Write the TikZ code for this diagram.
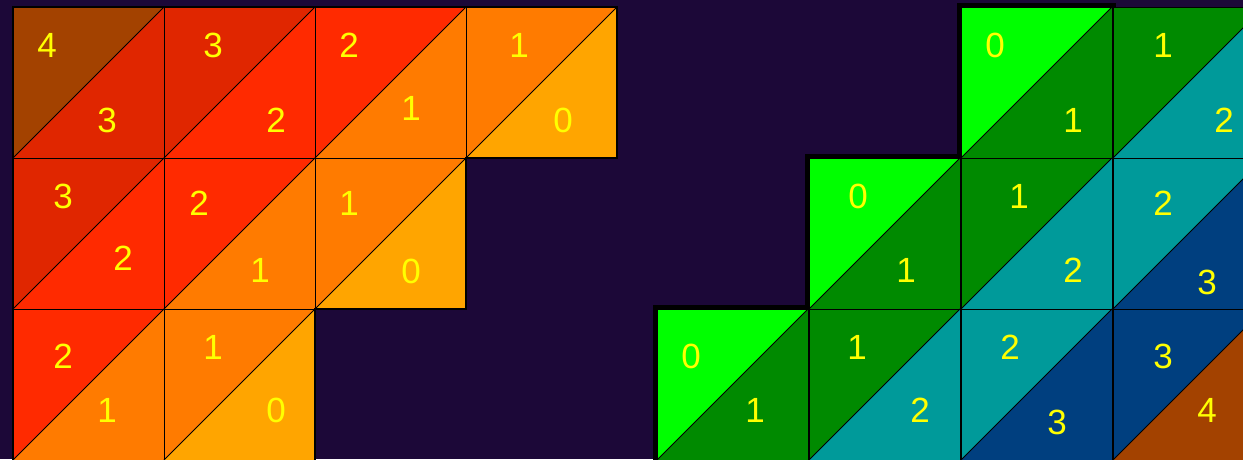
\documentclass[tikz,border=0pt]{standalone}
\usepackage{fontspec}
\setmainfont{Liberation Sans}
\definecolor{bg}{HTML}{1C0838}
\definecolor{cfour}{HTML}{A34200}
\definecolor{cthree}{HTML}{E02600}
\definecolor{ctwo}{HTML}{FF2A00}
\definecolor{cone}{HTML}{FF7B00}
\definecolor{czero}{HTML}{FFA500}
\definecolor{gzero}{HTML}{00FF00}
\definecolor{gone}{HTML}{008A00}
\definecolor{gtwo}{HTML}{009A9A}
\definecolor{gthree}{HTML}{003F7F}
\definecolor{gfour}{HTML}{A34200}
\definecolor{numcol}{HTML}{FFFF00}
% \mycell{x}{y}{upper colour}{lower colour}
\newcommand\mycell[4]{%
  \fill[#3] (#1,#2) -- ({#1+151},#2) -- (#1,{#2+151}) -- cycle;
  \fill[#4] ({#1+151},#2) -- ({#1+151},{#2+151}) -- (#1,{#2+151}) -- cycle;
  \draw[cellline] (#1,#2) rectangle ({#1+151},{#2+151});
  \draw[cellline] (#1,{#2+151}) -- ({#1+151},#2);
}
\begin{document}
\begin{tikzpicture}[x=1pt,y=-1pt,
  cellline/.style={black, line width=1pt},
  outline/.style={black, line width=5pt, line cap=rect, line join=miter},
  num/.style={text=numcol, font=\fontsize{35}{35}\selectfont, inner sep=0pt}]
\fill[bg] (0,0) rectangle (1243,459);
\useasboundingbox (0,0) rectangle (1243,459);
% ---------- left grid ----------
\mycell{13}{7}{cfour}{cthree}
\mycell{164}{7}{cthree}{ctwo}
\mycell{315}{7}{ctwo}{cone}
\mycell{466}{7}{cone}{czero}
\mycell{13}{158}{cthree}{ctwo}
\mycell{164}{158}{ctwo}{cone}
\mycell{315}{158}{cone}{czero}
\mycell{13}{309}{ctwo}{cone}
\mycell{164}{309}{cone}{czero}
\draw[black, line width=2pt, line join=miter]
  (13,470) -- (13,7) -- (617,7) -- (617,158) -- (466,158) -- (466,309) -- (315,309) -- (315,470);
% ---------- right grid ----------
\mycell{961}{7}{gzero}{gone}
\mycell{1113}{7}{gone}{gtwo}
\mycell{809}{158}{gzero}{gone}
\mycell{961}{158}{gone}{gtwo}
\mycell{1113}{158}{gtwo}{gthree}
\mycell{657}{309}{gzero}{gone}
\mycell{809}{309}{gone}{gtwo}
\mycell{961}{309}{gtwo}{gthree}
\mycell{1113}{309}{gthree}{gfour}
\draw[outline] (655,470) -- (655,307) -- (807,307) -- (807,156) -- (959,156) -- (959,5) -- (1113,5);
% ---------- numbers, left ----------
\node[num] (la) at (47,45) {4};   \node[num] (lb) at (107,120) {3};
\node[num] (lc) at (213,45) {3};  \node[num] (ld) at (276,120) {2};
\node[num] (le) at (349,45) {2};  \node[num] (lf) at (411,108) {1};
\node[num] (lg) at (519,45) {1};  \node[num] (lh) at (563,120) {0};
\node[num] (li) at (63,196) {3};  \node[num] (lj) at (123,258) {2};
\node[num] (lk) at (199,203) {2}; \node[num] (ll) at (260,270) {1};
\node[num] (lm) at (349,203) {1}; \node[num] (ln) at (411,271) {0};
\node[num] (lo) at (63,356) {2};  \node[num] (lp) at (107,410) {1};
\node[num] (lq) at (213,347) {1}; \node[num] (lr) at (276,410) {0};
% ---------- numbers, right ----------
\node[num] (ra) at (995,45) {0};   \node[num] (rb) at (1073,120) {1};
\node[num] (rc) at (1163,45) {1};  \node[num] (rd) at (1224,120) {2};
\node[num] (re) at (858,196) {0};  \node[num] (rf) at (906,270) {1};
\node[num] (rg) at (1019,196) {1}; \node[num] (rh) at (1073,270) {2};
\node[num] (ri) at (1163,203) {2}; \node[num] (rj) at (1207,282) {3};
\node[num] (rk) at (691,356) {0};  \node[num] (rl) at (755,410) {1};
\node[num] (rm) at (857,347) {1};  \node[num] (rn) at (920,410) {2};
\node[num] (ro) at (1010,347) {2}; \node[num] (rp) at (1057,422) {3};
\node[num] (rq) at (1163,356) {3}; \node[num] (rr) at (1207,410) {4};
\end{tikzpicture}
\end{document}
